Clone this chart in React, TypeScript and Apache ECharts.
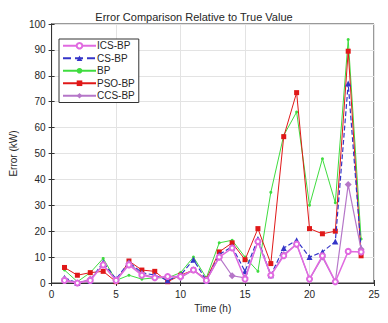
import React, { useEffect, useRef } from "react";
import * as echarts from "echarts";

const hours = [1, 2, 3, 4, 5, 6, 7, 8, 9, 10, 11, 12, 13, 14, 15, 16, 17, 18, 19, 20, 21, 22, 23, 24];
const icsBP = [1, 0, 1, 7, 1, 7, 3, 2, 2.5, 2.5, 5, 1, 10, 13.5, 1.5, 16, 3, 10.5, 15, 1.5, 10.5, 0.5, 12.2, 12];
const csBP = [2, 0, 1, 8, 1.5, 8, 4, 3, 1, 3, 9, 1, 11, 14, 4.5, 17, 3, 13.5, 16.5, 10, 12, 16, 77, 13];
const bp = [5, 0.5, 4, 9.5, 1, 3, 1.5, 2, 2, 4, 10, 2, 15.5, 16.5, 10, 4.5, 35, 57, 66, 30, 48, 31, 94, 17];
const psoBP = [6, 3, 4, 4.5, 0.5, 8.5, 5, 4.5, 0.5, 3, 5, 1.5, 12, 15.5, 9, 21, 7.5, 56.5, 73.5, 21, 19, 20, 89.5, 10.5];
const ccsBP = [1.5, 0, 1.5, 7, 1, 7.5, 3.5, 2, 2.5, 2, 5, 1, 10, 2.8, 2, 16, 3, 11, 15, 1.5, 10, 0.5, 38, 13];

const seriesNames = ["ICS-BP", "CS-BP", "BP", "PSO-BP", "CCS-BP"];

const FONT = "Liberation Sans, Arial, sans-serif";

export default function App() {
  const ref = useRef<HTMLDivElement>(null);
  useEffect(() => {
    if (!ref.current) return;
    const chart = echarts.init(ref.current, undefined, { renderer: "svg" });
    const pair = (arr: number[]) => hours.map((h, i) => [h, arr[i]]);
    const textStyle = { fontFamily: FONT, color: "#262626" };
    chart.setOption({
      animation: false,
      textStyle: { fontFamily: FONT },
      title: {
        text: "Error Comparison Relative to True Value",
        left: "center",
        top: 6,
        textStyle: { ...textStyle, fontSize: 11, fontWeight: "normal" },
      },
      grid: {
        left: 46,
        right: 14,
        top: 24,
        bottom: 40,
        show: true,
        borderColor: "#333",
        borderWidth: 1,
        backgroundColor: "#fff",
      },
      legend: {
        data: seriesNames,
        orient: "vertical",
        left: 59,
        top: 39,
        backgroundColor: "#fff",
        borderColor: "#333",
        borderWidth: 1,
        padding: [1, 4, 1, 3],
        itemWidth: 33,
        itemHeight: 7,
        itemGap: 1,
        textStyle: { ...textStyle, fontSize: 10, lineHeight: 11.5, padding: [0, 0, 0, -4] },
      },
      xAxis: [
        {
          type: "value",
          min: 0,
          max: 25,
          interval: 5,
          name: "Time (h)",
          nameLocation: "middle",
          nameGap: 20,
          nameTextStyle: { ...textStyle, fontSize: 10 },
          axisLine: { lineStyle: { color: "#333" } },
          axisTick: { inside: true, length: 3, lineStyle: { color: "#333" } },
          axisLabel: { ...textStyle, fontSize: 10, margin: 6 },
          splitLine: { show: true, lineStyle: { color: "#e3e3e3" } },
        },
        {
          type: "value",
          position: "top",
          min: 0,
          max: 25,
          interval: 5,
          axisLine: { show: true, lineStyle: { color: "#333" } },
          axisTick: { inside: true, length: 3, lineStyle: { color: "#333" } },
          axisLabel: { show: false },
          splitLine: { show: false },
        },
      ],
      yAxis: [
        {
          type: "value",
          min: 0,
          max: 100,
          interval: 10,
          name: "Error (kW)",
          nameLocation: "middle",
          nameGap: 28,
          nameTextStyle: { ...textStyle, fontSize: 10 },
          axisLine: { show: true, lineStyle: { color: "#333" } },
          axisTick: { show: true, inside: true, length: 3, lineStyle: { color: "#333" } },
          axisLabel: { ...textStyle, fontSize: 10, margin: 6 },
          splitLine: { show: true, lineStyle: { color: "#e3e3e3" } },
        },
        {
          type: "value",
          position: "right",
          min: 0,
          max: 100,
          interval: 10,
          axisLine: { show: true, lineStyle: { color: "#333" } },
          axisTick: { show: true, inside: true, length: 3, lineStyle: { color: "#333" } },
          axisLabel: { show: false },
          splitLine: { show: false },
        },
      ],
      series: [
        {
          name: "BP",
          type: "line",
          data: pair(bp),
          symbol: "circle",
          symbolSize: 3,
          color: "#3fdc3f",
          lineStyle: { width: 1, color: "#3fdc3f" },
          z: 2,
        },
        {
          name: "PSO-BP",
          type: "line",
          data: pair(psoBP),
          symbol: "rect",
          symbolSize: 5,
          color: "#e01818",
          lineStyle: { width: 1, color: "#e01818" },
          z: 3,
        },
        {
          name: "CS-BP",
          type: "line",
          data: pair(csBP),
          symbol: "triangle",
          symbolSize: 6,
          color: "#3535c8",
          lineStyle: { width: 1.2, color: "#3535c8", type: "dashed" },
          z: 4,
        },
        {
          name: "CCS-BP",
          type: "line",
          data: pair(ccsBP),
          symbol: "diamond",
          symbolSize: 7,
          color: "#b576c8",
          lineStyle: { width: 1.2, color: "#b576c8", type: "solid" },
          z: 5,
        },
        {
          name: "ICS-BP",
          type: "line",
          data: pair(icsBP),
          symbol: "emptyCircle",
          symbolSize: 5,
          color: "#e06ae0",
          lineStyle: { width: 1.5, color: "#e06ae0", type: "solid" },
          z: 6,
        },
      ],
    });
    return () => chart.dispose();
  }, []);
  return (
    <div
      ref={ref}
      style={{ position: "fixed", left: 0, top: 0, width: 388, height: 323, background: "#fff" }}
    />
  );
}
